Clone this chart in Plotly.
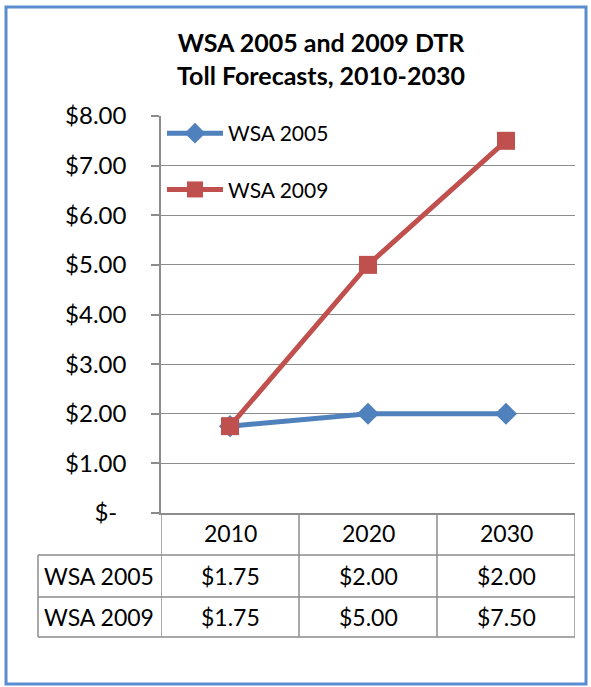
import plotly.graph_objects as go

# ---- data ----
years = ["2010", "2020", "2030"]
wsa2005 = [1.75, 2.00, 2.00]
wsa2009 = [1.75, 5.00, 7.50]
series_names = ["WSA 2005", "WSA 2009"]
ytick_vals = [0, 1, 2, 3, 4, 5, 6, 7, 8]
ytick_text = ["$-\u00a0\u2009", "$1.00", "$2.00", "$3.00", "$4.00", "$5.00", "$6.00", "$7.00", "$8.00"]

W, H = 591, 687
L, R, T, B = 161, 16, 116, 174
PW, PH = W - L - R, H - T - B
FONT = "Lato, 'Open Sans', sans-serif"
GRID = "#8c8c8c"
BLUE = "#4f81bd"
RED = "#c0504d"


def px(xp):
    return (xp - L) / PW


def py(yp):
    return (H - B - yp) / PH


xs = list(range(len(years)))

fig = go.Figure()
fig.add_trace(go.Scatter(x=xs, y=wsa2005, name=series_names[0], mode="lines+markers",
                         legendgroup="a",
                         line=dict(color=BLUE, width=5),
                         marker=dict(symbol="diamond", size=17, color=BLUE)))
fig.add_trace(go.Scatter(x=xs, y=wsa2009, name=series_names[1], mode="lines+markers",
                         legendgroup="b",
                         line=dict(color=RED, width=5),
                         marker=dict(symbol="square", size=18, color=RED)))

shapes = []
# outer blue border
shapes.append(dict(type="rect", xref="paper", yref="paper",
                   x0=px(6), x1=px(586), y0=py(684), y1=py(7),
                   line=dict(color="#5b8bd0", width=3), fillcolor="rgba(0,0,0,0)", layer="below"))
# table horizontal lines
for yy, x0 in [(555, 38), (597, 38), (637, 38)]:
    shapes.append(dict(type="line", xref="paper", yref="paper",
                       x0=px(x0), x1=1, y0=py(yy), y1=py(yy),
                       line=dict(color=GRID, width=1.5)))
# table verticals
shapes.append(dict(type="line", xref="paper", yref="paper",
                   x0=px(38), x1=px(38), y0=py(555), y1=py(637),
                   line=dict(color=GRID, width=1.5)))
for b in [-0.5, 0.5, 1.5, 2.5]:
    shapes.append(dict(type="line", xref="x", yref="paper",
                       x0=b, x1=b, y0=0, y1=py(637),
                       line=dict(color=GRID, width=1.5)))

TF = dict(size=23, color="black", family=FONT)
annotations = []
for i, yr in enumerate(years):
    annotations.append(dict(x=i, y=py(533), xref="x", yref="paper", text=yr,
                            xanchor="center", yanchor="middle",
                            showarrow=False, font=TF))
rows = [(series_names[0], wsa2005, 576), (series_names[1], wsa2009, 617)]
for name, vals, yy in rows:
    annotations.append(dict(x=px(99), y=py(yy), xref="paper", yref="paper", text=name,
                            xanchor="center", yanchor="middle",
                            showarrow=False, font=TF))
    for i, v in enumerate(vals):
        annotations.append(dict(x=i, y=py(yy), xref="x", yref="paper", text=f"${v:.2f}",
                                xanchor="center", yanchor="middle",
                                showarrow=False, font=TF))

fig.update_layout(
    width=W, height=H,
    margin=dict(l=L, r=R, t=T, b=B),
    paper_bgcolor="white", plot_bgcolor="white",
    title=dict(text="<b>WSA 2005 and 2009 DTR<br>Toll Forecasts, 2010-2030</b>",
               xref="container", x=321 / W, xanchor="center", y=1 - 52 / H, yanchor="middle",
               font=dict(size=25, color="black", family=FONT)),
    font=dict(family=FONT, color="black"),
    showlegend=True,
    legend=dict(x=px(162), y=py(113), xanchor="left", yanchor="top",
                bgcolor="rgba(0,0,0,0)", font=dict(size=21, color="black", family=FONT),
                tracegroupgap=26, itemwidth=56),
    xaxis=dict(range=[-0.5, 2.5], showticklabels=False, showgrid=False, zeroline=False,
               showline=True, linecolor=GRID, linewidth=1.5, ticks=""),
    yaxis=dict(range=[0, 8], tickvals=ytick_vals, ticktext=ytick_text,
               showgrid=True, gridcolor=GRID, gridwidth=1.2, zeroline=False,
               showline=True, linecolor=GRID, linewidth=1.5,
               ticks="outside", ticklen=8, tickcolor=GRID, tickwidth=1.5,
               ticklabelstandoff=20, tickfont=dict(size=24, color="black", family=FONT)),
    shapes=shapes, annotations=annotations,
)

fig.write_html("out.html", post_script="document.body.style.margin='0';",
               config={"displayModeBar": False})
